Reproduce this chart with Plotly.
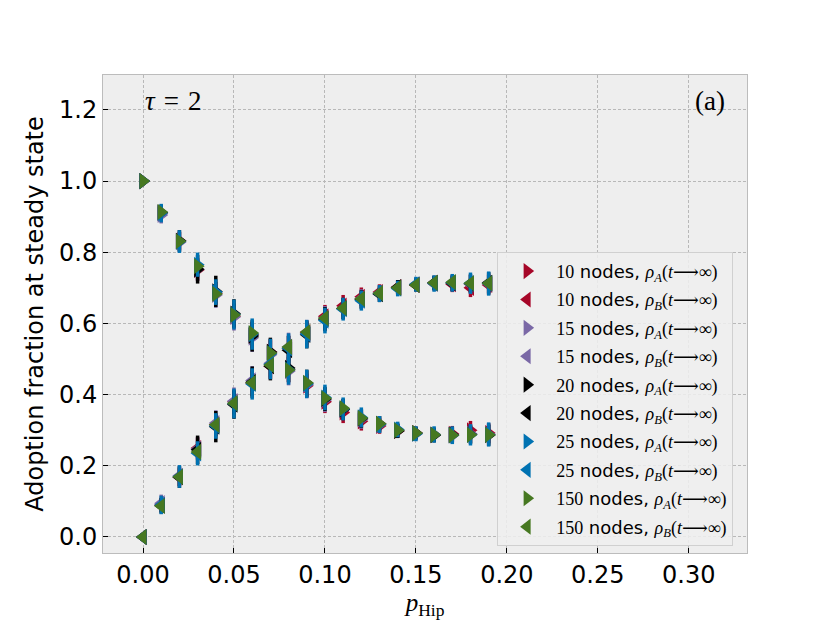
import plotly.graph_objects as go

# ---------------- data ----------------
p_hip = [0.00, 0.01, 0.02, 0.03, 0.04, 0.05, 0.06, 0.07, 0.08, 0.09,
         0.10, 0.11, 0.12, 0.13, 0.14, 0.15, 0.16, 0.17, 0.18, 0.19]

rhoA_10 = [1.000, 0.910, 0.832, 0.750, 0.685, 0.620, 0.568, 0.520, 0.470, 0.425,
           0.380, 0.350, 0.325, 0.312, 0.298, 0.292, 0.288, 0.290, 0.300, 0.292]
rhoB_10 = [0.000, 0.090, 0.168, 0.250, 0.315, 0.380, 0.432, 0.480, 0.530, 0.575,
           0.620, 0.650, 0.675, 0.688, 0.702, 0.708, 0.712, 0.710, 0.700, 0.708]
err_10 = [0.000, 0.020, 0.025, 0.030, 0.032, 0.035, 0.036, 0.036, 0.036, 0.034,
          0.032, 0.030, 0.026, 0.022, 0.020, 0.018, 0.020, 0.022, 0.026, 0.028]

rhoA_15 = [1.000, 0.905, 0.828, 0.752, 0.680, 0.618, 0.560, 0.512, 0.466, 0.428,
           0.385, 0.358, 0.330, 0.315, 0.300, 0.290, 0.286, 0.285, 0.290, 0.288]
rhoB_15 = [0.000, 0.095, 0.172, 0.248, 0.320, 0.382, 0.440, 0.488, 0.534, 0.572,
           0.615, 0.642, 0.670, 0.685, 0.700, 0.710, 0.714, 0.715, 0.710, 0.712]
err_15 = [0.000, 0.024, 0.028, 0.032, 0.036, 0.038, 0.040, 0.040, 0.040, 0.038,
          0.034, 0.030, 0.026, 0.023, 0.020, 0.019, 0.020, 0.022, 0.026, 0.028]

rhoA_20 = [1.000, 0.912, 0.832, 0.752, 0.690, 0.628, 0.565, 0.520, 0.475, 0.432,
           0.388, 0.358, 0.333, 0.318, 0.298, 0.292, 0.286, 0.287, 0.288, 0.286]
rhoB_20 = [0.000, 0.088, 0.168, 0.245, 0.310, 0.372, 0.435, 0.480, 0.525, 0.568,
           0.612, 0.642, 0.667, 0.682, 0.702, 0.708, 0.714, 0.713, 0.712, 0.714]
err_20 = [0.000, 0.022, 0.030, 0.040, 0.044, 0.040, 0.044, 0.040, 0.040, 0.038,
          0.034, 0.030, 0.026, 0.022, 0.020, 0.018, 0.020, 0.022, 0.026, 0.030]

rhoA_25 = [1.000, 0.910, 0.830, 0.765, 0.688, 0.625, 0.570, 0.515, 0.470, 0.430,
           0.392, 0.360, 0.336, 0.316, 0.302, 0.290, 0.288, 0.286, 0.287, 0.288]
rhoB_25 = [0.000, 0.090, 0.170, 0.235, 0.312, 0.375, 0.430, 0.485, 0.530, 0.570,
           0.608, 0.640, 0.664, 0.684, 0.698, 0.710, 0.712, 0.714, 0.713, 0.712]
err_25 = [0.000, 0.026, 0.032, 0.034, 0.036, 0.042, 0.044, 0.042, 0.042, 0.040,
          0.036, 0.032, 0.028, 0.024, 0.022, 0.021, 0.023, 0.025, 0.030, 0.034]

rhoA_150 = [1.000, 0.913, 0.831, 0.761, 0.683, 0.624, 0.573, 0.517, 0.469, 0.433,
            0.390, 0.362, 0.334, 0.318, 0.300, 0.292, 0.287, 0.286, 0.287, 0.287]
rhoB_150 = [0.000, 0.087, 0.169, 0.239, 0.315, 0.376, 0.433, 0.483, 0.534, 0.576,
            0.615, 0.643, 0.669, 0.685, 0.700, 0.708, 0.714, 0.716, 0.713, 0.713]
err_150 = [0.0] * len(p_hip)

sizes = ["10", "15", "20", "25", "150"]
colors = ["#A60628", "#7A68A6", "#000000", "#0072B2", "#467821"]
seriesA = [rhoA_10, rhoA_15, rhoA_20, rhoA_25, rhoA_150]
seriesB = [rhoB_10, rhoB_15, rhoB_20, rhoB_25, rhoB_150]
errors = [err_10, err_15, err_20, err_25, err_150]

SERIF = "Liberation Serif, DejaVu Serif, serif"
SANS = "DejaVu Sans, sans-serif"

fig = go.Figure()


def label(n, which):
    return (f'<span style="font-family:{SERIF}">{n}</span> nodes, '
            f'<span style="font-family:{SERIF}"><i>ρ</i><sub><i>{which}</i></sub>'
            f'(<i>t</i>⟶∞)</span>')


k = 0
for n, c, ya, yb, e in zip(sizes, colors, seriesA, seriesB, errors):
    for y, sym, which in ((ya, "triangle-right", "A"), (yb, "triangle-left", "B")):
        fig.add_trace(go.Scatter(
            x=p_hip, y=y, mode="markers",
            name=label(n, which),
            legendgroup=f"g{k}",
            marker=dict(symbol=sym, size=14, color=c, line=dict(width=0)),
            error_y=dict(type="data", array=e, visible=any(v > 0 for v in e),
                         color=c, thickness=3.5, width=0),
        ))
        k += 1

# page body has an 8px margin in the browser: shift the layout to compensate
fig.update_layout(
    width=830, height=623,
    margin=dict(l=95, r=91, t=67, b=78),
    paper_bgcolor="white",
    plot_bgcolor="#eeeeee",
    font=dict(family=SANS, size=24, color="black"),
    showlegend=True,
    legend=dict(
        x=0.612, y=0.63, xanchor="left", yanchor="top",
        bgcolor="rgba(238,238,238,0.85)", bordercolor="#d0d0d0", borderwidth=1,
        font=dict(family=SANS, size=18, color="black"),
        tracegroupgap=2, itemwidth=48,
    ),
    annotations=[
        dict(x=0.062, y=0.946, xref="paper", yref="paper", xanchor="left", yanchor="middle",
             text="<i>τ</i>\u2004=\u20042", showarrow=False,
             font=dict(family=SERIF, size=27, color="black")),
        dict(x=0.969, y=0.946, xref="paper", yref="paper", xanchor="right", yanchor="middle",
             text="(a)", showarrow=False,
             font=dict(family=SERIF, size=27, color="black")),
    ],
)

fig.update_xaxes(
    range=[-0.022, 0.332],
    tickvals=[0.0, 0.05, 0.10, 0.15, 0.20, 0.25, 0.30],
    tickformat=".2f",
    ticks="inside", ticklen=5, tickwidth=1.2, tickcolor="black",
    tickfont=dict(size=24),
    showgrid=True, gridcolor="#b8b8b8", gridwidth=0.8, griddash="3px,2px",
    zeroline=False,
    showline=True, linecolor="#bcbcbc", linewidth=1, mirror=True,
    title=dict(text="<i>p</i><sub>Hip</sub>", font=dict(family=SERIF, size=25), standoff=4),
)
fig.update_yaxes(
    range=[-0.045, 1.298],
    tickvals=[0.0, 0.2, 0.4, 0.6, 0.8, 1.0, 1.2],
    tickformat=".1f",
    ticks="inside", ticklen=5, tickwidth=1.2, tickcolor="black",
    tickfont=dict(size=24),
    showgrid=True, gridcolor="#b8b8b8", gridwidth=0.8, griddash="3px,2px",
    zeroline=False,
    showline=True, linecolor="#bcbcbc", linewidth=1, mirror=True,
    title=dict(text="Adoption fraction at steady state", font=dict(family=SANS, size=24), standoff=8),
)

fig.write_html("out.html")
